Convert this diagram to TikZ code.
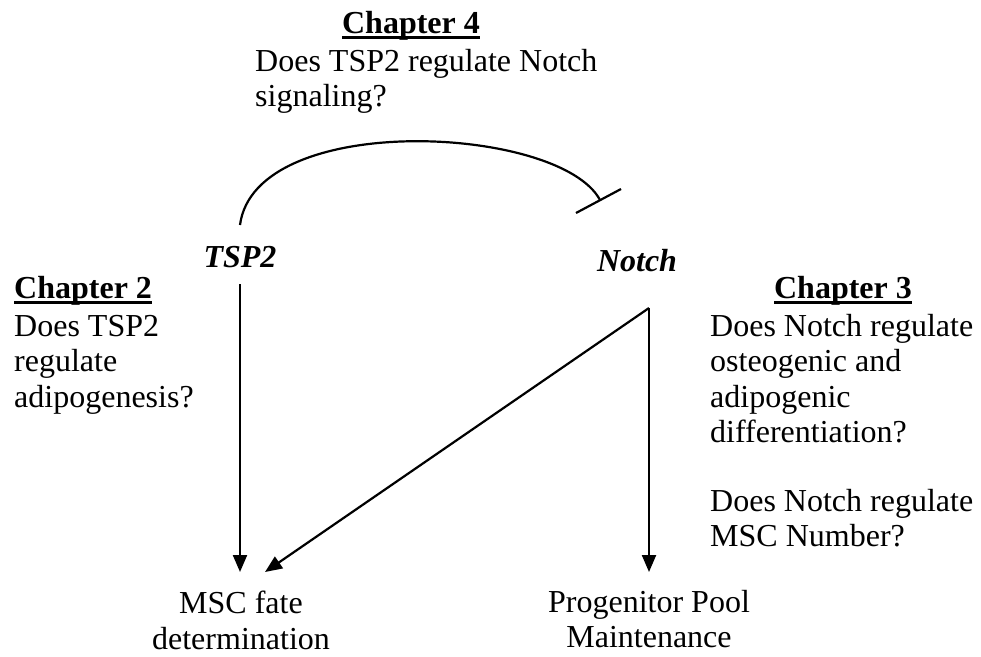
\documentclass[tikz,border=0pt]{standalone}
\usepackage{fontspec}
\setmainfont{Liberation Serif}
\usetikzlibrary{arrows.meta, positioning}
\newcommand{\chaphead}[1]{\setbox0\hbox{\bfseries #1}\rlap{\rule[-6pt]{\wd0}{2.6pt}}\box0}
\tikzset{
  txt/.style={inner sep=0pt, font=\fontsize{32}{35.5}\selectfont},
  headbox/.style={txt, anchor=base},
  qbox/.style={txt, align=left, anchor=north west},
  genebox/.style={txt, anchor=base, font=\fontsize{32}{35.5}\selectfont\bfseries\itshape},
  outbox/.style={txt, align=center, anchor=north},
  arr/.style={-{Triangle[length=17pt, width=14pt]}, line width=2.2pt},
  inh/.style={line width=2.2pt},
}
\begin{document}
\begin{tikzpicture}[x=1pt, y=-1pt]
  \useasboundingbox (0,0) rectangle (981,656);
  % chapter questions
  \node[headbox] (ch4) at (411,33) {\chaphead{Chapter 4}};
  \node[qbox] (ch4q) at (255,49) {Does TSP2 regulate Notch\\signaling?};
  \node[headbox, anchor=base west] (ch2) at (14,298) {\chaphead{Chapter 2}};
  \node[qbox] (ch2q) at (14,315) {Does TSP2\\regulate\\adipogenesis?};
  \node[headbox] (ch3) at (843,298) {\chaphead{Chapter 3}};
  \node[qbox] (ch3q1) at (710,314) {Does Notch regulate\\osteogenic and\\adipogenic\\differentiation?};
  \node[qbox] (ch3q2) at (710,489) {Does Notch regulate\\MSC Number?};

  % genes
  \node[genebox] (tsp2) at (240,267) {TSP2};
  \node[genebox] (notch) at (637,271) {Notch};

  % outcomes
  \node[outbox] (msc) at (241,591) {MSC fate\\determination};
  \node[outbox] (pool) at (649,590) {Progenitor Pool\\Maintenance};

  \coordinate (tsp2up) at (240,225);
  \coordinate (notchin) at (600,200);
  \coordinate (barlo) at (576,213);
  \coordinate (barhi) at (621,189);
  \coordinate (tsp2dn) at (240,284);
  \coordinate (notchdn) at (649,308);
  \coordinate (mscin) at (240,572);
  \coordinate (mscin2) at (265,572);
  \coordinate (poolin) at (649,572);

  \draw[inh] (tsp2up) .. controls (255,110) and (560,125) .. (notchin);
  \draw[inh] (barlo) -- (barhi);
  \draw[arr] (tsp2dn) -- (mscin);
  \draw[arr] (notchdn) -- (poolin);
  \draw[arr] (notchdn) -- (mscin2);
\end{tikzpicture}
\end{document}
